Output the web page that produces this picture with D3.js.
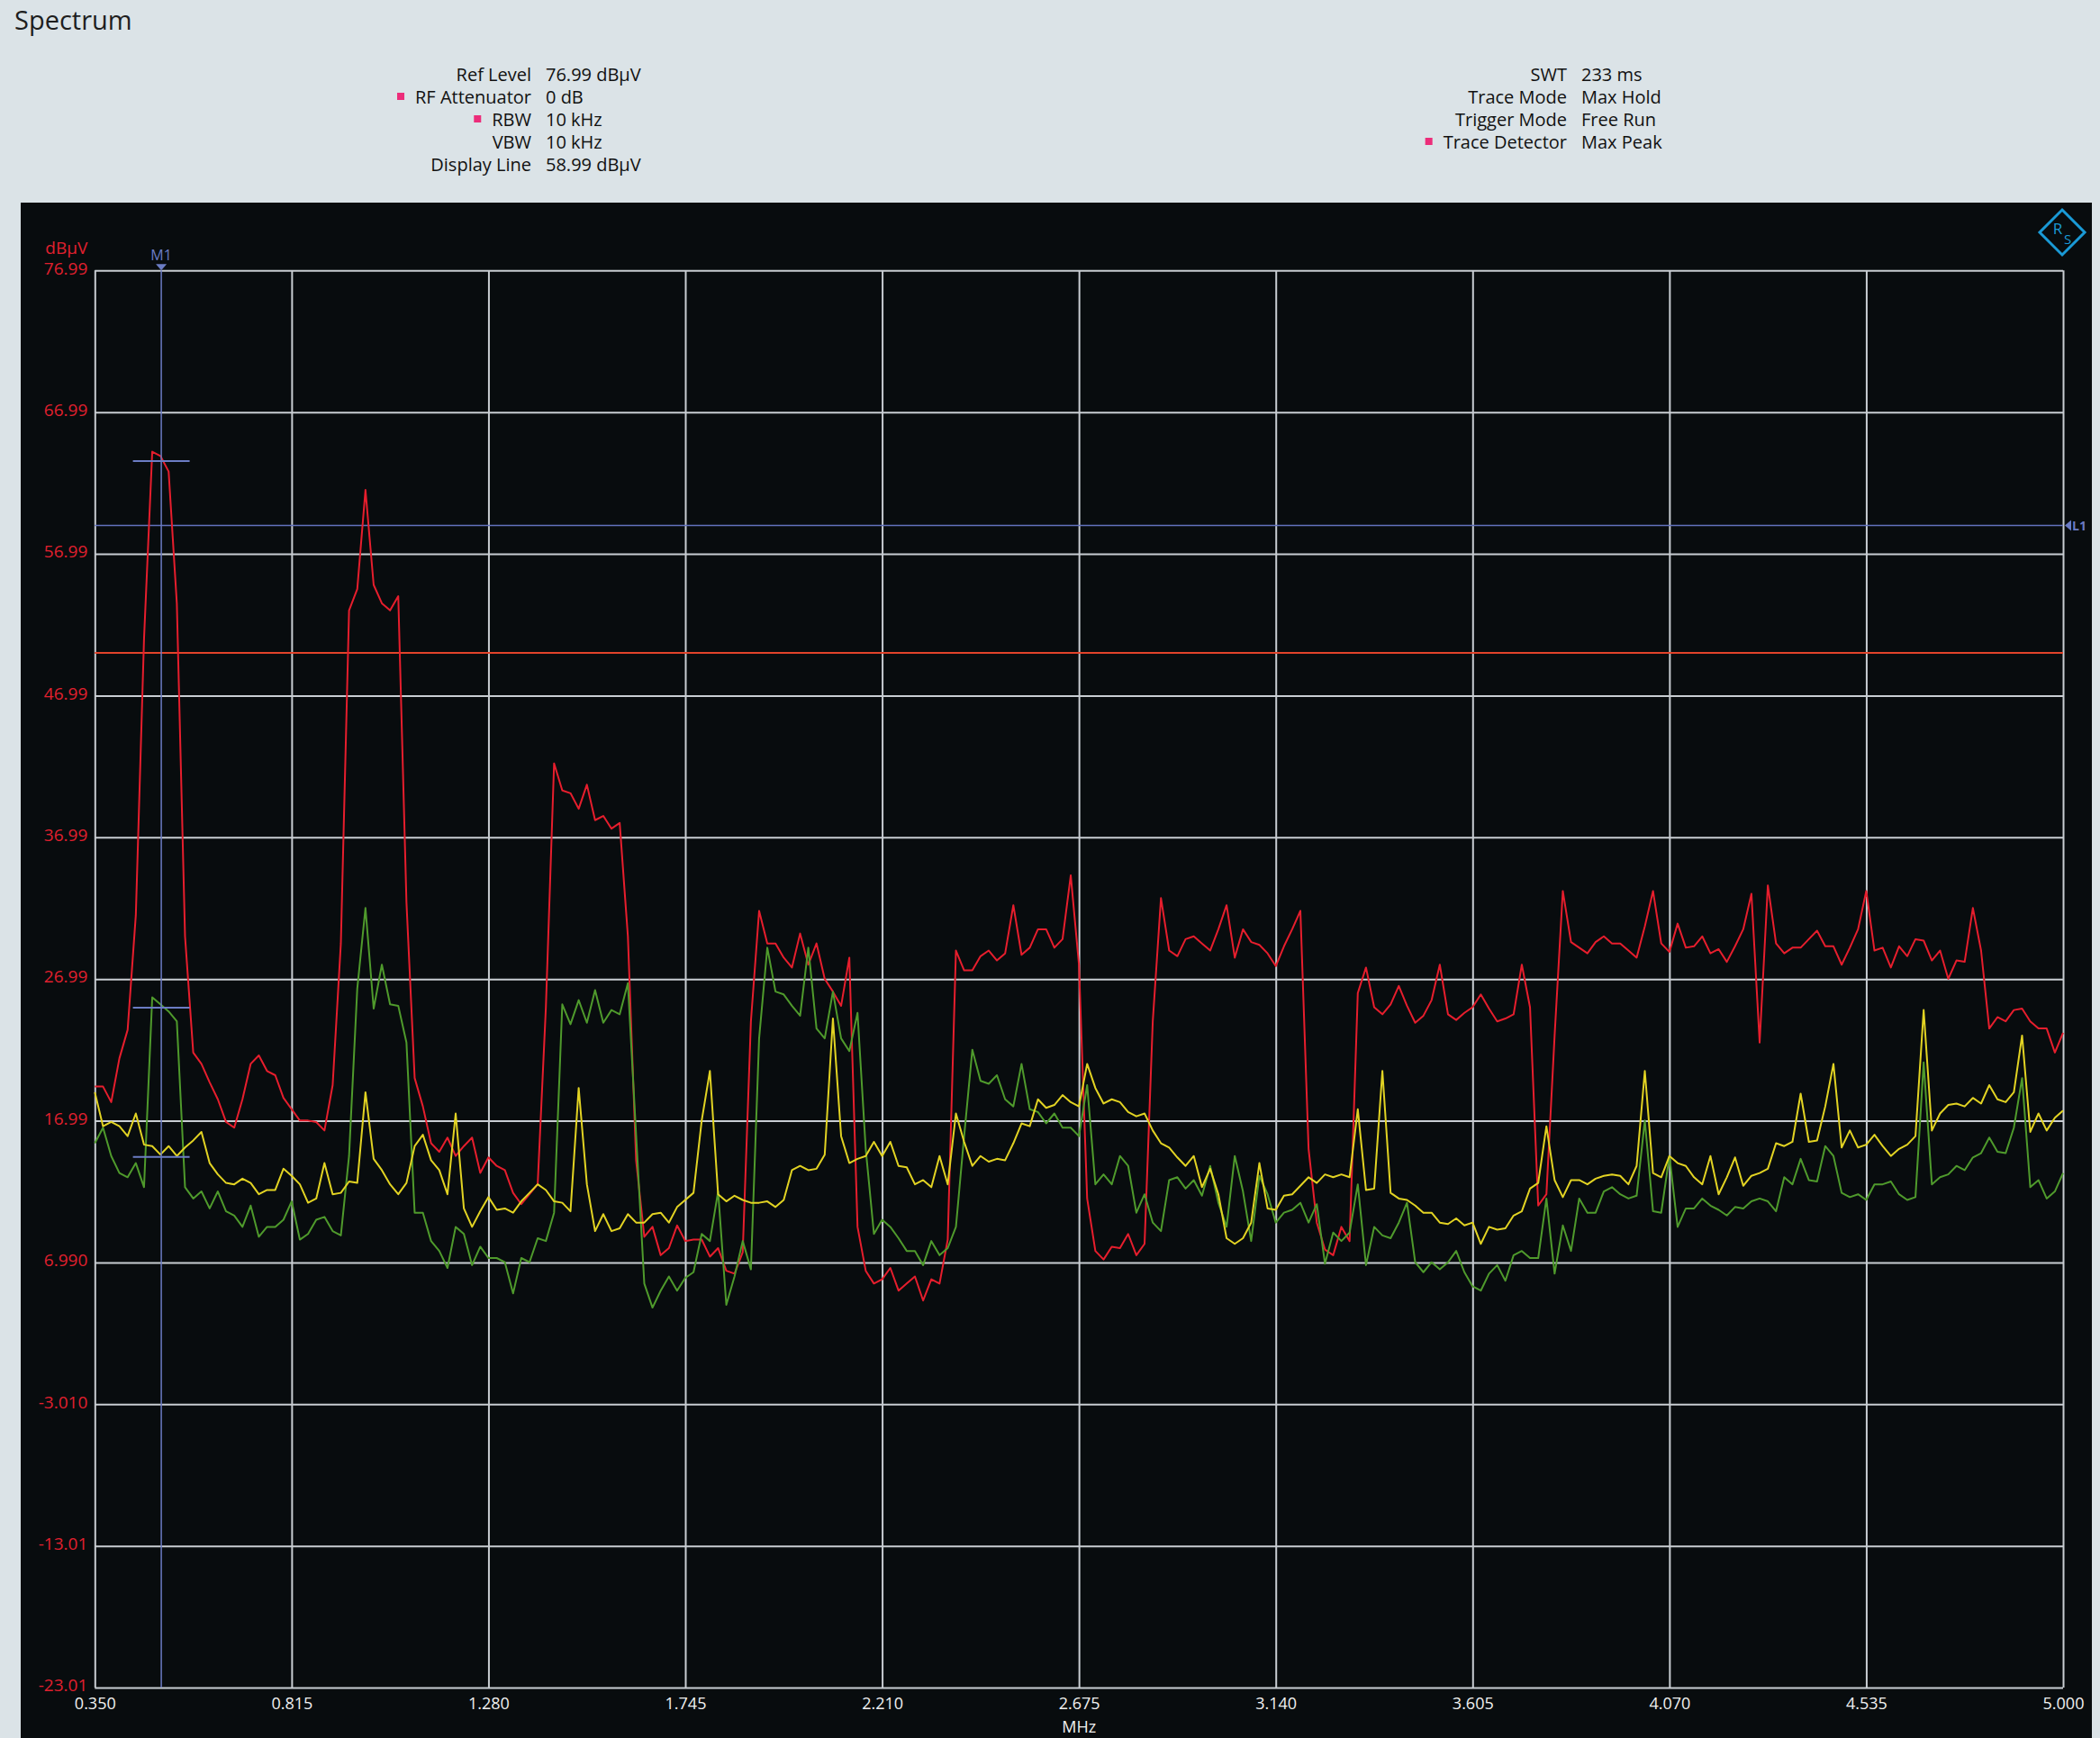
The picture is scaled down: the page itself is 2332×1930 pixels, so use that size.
<!DOCTYPE html>
<html>
<head>
<meta charset="utf-8">
<script src="https://cdn.jsdelivr.net/npm/d3@7"></script>
<style>
  body { margin: 0; background: #dbe3e7; }
  svg { display: block; }
  text { font-family: "Open Sans", "Noto Sans", sans-serif; }
</style>
</head>
<body>
<svg id="chart" width="2332" height="1930"></svg>
<script>
// sweep: 0.35 .. 5.0 MHz, 10 divisions, 24 points per division
const startMHz = 0.35;
const stopMHz = 5.0;
const pointsPerDiv = 24;

const xTickValues = [0.35, 0.815, 1.28, 1.745, 2.21, 2.675, 3.14, 3.605, 4.07, 4.535, 5.0];
const xTickLabels = ["0.350", "0.815", "1.280", "1.745", "2.210", "2.675", "3.140", "3.605", "4.070", "4.535", "5.000"];
const yTickValues = [76.99, 66.99, 56.99, 46.99, 36.99, 26.99, 16.99, 6.99, -3.01, -13.01, -23.01];
const yTickLabels = ["76.99", "66.99", "56.99", "46.99", "36.99", "26.99", "16.99", "6.990", "-3.010", "-13.01", "-23.01"];

// dBµV, one value per sweep point (241)
const redTrace = [
  19.4, 19.4, 18.3, 21.4, 23.4, 31.5, 51, 64.2, 63.9, 62.8, 53.5, 30, 21.8, 21, 19.7, 18.5, 16.9, 16.5, 18.5, 21, 21.6, 20.5, 20.2, 18.6, 17.8,
  17.0, 17.0, 16.9, 16.3, 19.5, 29.5, 53, 54.5, 61.5, 54.8, 53.5, 53, 54, 32.4, 20, 18, 15.4, 14.8, 15.8, 14.5, 15.2, 15.8, 13.3, 14.4,
  13.8, 13.5, 11.9, 11.1, 11.8, 12.5, 25, 42.2, 40.3, 40.1, 39, 40.7, 38.2, 38.5, 37.6, 38, 30, 14.2, 8.8, 9.5, 7.5, 8, 9.6, 8.5,
  8.6, 8.6, 7.4, 8, 6.4, 6.2, 7.7, 24, 31.8, 29.5, 29.5, 28.5, 27.8, 30.2, 28, 29.5, 27.0, 26.1, 25.1, 28.5, 9.5, 6.4, 5.5, 5.8,
  6.6, 5, 5.5, 6, 4.3, 5.8, 5.5, 8.6, 29, 27.6, 27.6, 28.6, 29, 28.3, 28.8, 32.2, 28.7, 29.2, 30.5, 30.5, 29.2, 29.8, 34.3, 28,
  11.5, 7.8, 7.2, 8.1, 8, 9, 7.5, 8.3, 24, 32.7, 29, 28.6, 29.8, 30, 29.5, 29.0, 30.5, 32.2, 28.5, 30.5, 29.6, 29.4, 28.8, 27.9,
  29.3, 30.5, 31.8, 15, 9.8, 7.9, 7.5, 9.5, 8.5, 26, 27.8, 25, 24.5, 25.2, 26.5, 25.1, 23.9, 24.4, 25.5, 28, 24.5, 24.1, 24.6, 25,
  25.9, 24.9, 24, 24.2, 24.5, 28, 25, 11, 11.8, 23, 33.2, 29.6, 29.2, 28.8, 29.6, 30, 29.5, 29.5, 29, 28.5, 30.7, 33.2, 29.5, 28.9,
  30.9, 29.2, 29.3, 30, 28.8, 29.1, 28.2, 29.3, 30.5, 33, 22.5, 33.6, 29.5, 28.8, 29.2, 29.2, 29.8, 30.4, 29.3, 29.3, 28, 29.2, 30.5, 33.2,
  29, 29.2, 27.8, 29.3, 28.6, 29.8, 29.7, 28.3, 29, 27.0, 28.3, 28.2, 32, 29, 23.5, 24.3, 24, 24.8, 24.9, 24, 23.5, 23.5, 21.8, 23.2
];

const greenTrace = [
  15.4, 16.5, 14.5, 13.3, 13.0, 14.0, 12.3, 25.7, 25.2, 24.7, 24.0, 12.3, 11.5, 12, 10.8, 12, 10.6, 10.3, 9.5, 11, 8.8, 9.5, 9.5, 10, 11.3,
  8.6, 9, 10, 10.2, 9.2, 8.9, 14.5, 26.3, 32, 24.9, 28, 25.2, 25.1, 22.5, 10.5, 10.5, 8.5, 7.8, 6.6, 9.5, 9, 6.8, 8.1, 7.3,
  7.3, 7, 4.8, 7.3, 7, 8.7, 8.5, 10.5, 25.2, 23.8, 25.5, 23.9, 26.2, 23.9, 24.8, 24.5, 26.7, 16, 5.5, 3.8, 5, 6, 5, 5.9,
  6.3, 9, 8.5, 12, 4, 6, 8.5, 6.5, 22.8, 29.2, 26.1, 25.9, 25.1, 24.4, 29.2, 23.5, 22.8, 26.1, 22.8, 21.9, 24.6, 15, 9, 10,
  9.5, 8.7, 7.8, 7.8, 6.8, 8.5, 7.5, 8, 9.5, 15.9, 22, 19.8, 19.6, 20.2, 18.5, 18, 21, 17.8, 17.6, 16.8, 17.5, 16.5, 16.5, 15.9,
  19.5, 12.5, 13.2, 12.5, 14.5, 13.8, 10.5, 11.8, 9.8, 9.2, 12.8, 13.0, 12.2, 12.8, 11.7, 13.8, 11.2, 9.5, 14.5, 12, 8.5, 13.1, 11.8, 9.8,
  10.5, 10.7, 11.2, 9.8, 11.1, 6.9, 9.1, 8.5, 9.1, 12.5, 6.8, 9.5, 8.9, 8.7, 9.8, 11.2, 7, 6.3, 7, 6.5, 7, 7.8, 6.3, 5.3,
  5, 6.2, 6.8, 5.7, 7.5, 7.8, 7.3, 7.3, 11.5, 6.2, 9.6, 7.8, 11.5, 10.5, 10.5, 12, 12.3, 11.8, 11.5, 11.7, 17, 10.6, 10.5, 14.5,
  9.5, 10.8, 10.8, 11.5, 11, 10.7, 10.3, 10.9, 10.8, 11.3, 11.5, 11.3, 10.6, 13, 12.5, 14.3, 12.8, 12.7, 15.2, 14.5, 11.9, 11.6, 11.8, 11.4,
  12.5, 12.5, 12.7, 11.8, 11.4, 11.6, 21.1, 12.5, 13, 13.2, 13.8, 13.5, 14.4, 14.7, 15.8, 14.8, 14.7, 16.5, 20, 12.3, 12.8, 11.5, 12, 13.3
];

const yellowTrace = [
  19, 16.6, 16.9, 16.6, 15.9, 17.5, 15.3, 15.2, 14.6, 15.2, 14.5, 15.1, 15.6, 16.2, 14, 13.2, 12.6, 12.5, 12.9, 12.6, 11.8, 12.1, 12.1, 13.6, 13.1,
  12.5, 11.2, 11.5, 14, 11.8, 11.9, 12.7, 12.6, 19, 14.3, 13.5, 12.5, 11.8, 12.6, 15.2, 16, 14.2, 13.5, 11.8, 17.5, 10.8, 9.5, 10.6, 11.6,
  10.7, 10.8, 10.5, 11.3, 11.9, 12.5, 12.1, 11.3, 11.2, 10.6, 19.3, 12.5, 9.2, 10.4, 9.2, 9.4, 10.4, 9.8, 9.8, 10.4, 10.5, 9.8, 10.9, 11.4,
  11.9, 17, 20.5, 11.8, 11.3, 11.7, 11.4, 11.2, 11.2, 11.3, 10.9, 11.4, 13.5, 13.8, 13.5, 13.6, 14.6, 24.2, 15.9, 14, 14.3, 14.5, 15.5, 14.5,
  15.5, 13.8, 13.7, 12.5, 12.8, 12.3, 14.5, 12.5, 17.5, 15.5, 13.8, 14.5, 14.1, 14.3, 14.2, 15.4, 16.8, 16.6, 18.5, 17.9, 18.1, 18.8, 18.3, 18,
  21, 19.3, 18.2, 18.5, 18.3, 17.6, 17.3, 17.5, 16.3, 15.4, 15.1, 14.4, 13.8, 14.5, 12.3, 13.6, 11.8, 8.7, 8.3, 8.7, 9.8, 14, 10.8, 10.7,
  11.7, 11.8, 12.4, 13, 12.6, 13.2, 13, 13.2, 13, 17.8, 12.1, 12.2, 20.5, 11.9, 11.5, 11.4, 11, 10.5, 10.5, 9.8, 9.7, 10.1, 9.6, 9.8,
  8.3, 9.5, 9.3, 9.4, 10.3, 10.6, 12.2, 12.6, 16.6, 12.8, 11.6, 12.8, 12.8, 12.5, 12.9, 13.1, 13.2, 13.1, 12.5, 13.8, 20.5, 13.3, 13, 14.5,
  14.0, 13.8, 13.0, 12.5, 14.5, 11.8, 13, 14.4, 12.4, 13.1, 13.3, 13.6, 15.4, 15.2, 15.5, 18.9, 15.5, 15.6, 18, 21, 15.1, 16.3, 15.1, 15.3,
  16, 15.2, 14.5, 15, 15.3, 15.9, 24.8, 16.3, 17.5, 18.1, 18.2, 18.0, 18.6, 18.2, 19.5, 18.5, 18.3, 19, 23, 16.2, 17.5, 16.3, 17.2, 17.7
];

// marker M1 and lines
const markerMHz = 0.507;
const markerLevels = [63.54, 24.97, 14.44];
const displayLine = 58.99;
const limitLine = 50.0;

// setup info rows: [label, value, flagged]
const setupLeft = [
  ["Ref Level", "76.99 dBµV", false],
  ["RF Attenuator", "0 dB", true],
  ["RBW", "10 kHz", true],
  ["VBW", "10 kHz", false],
  ["Display Line", "58.99 dBµV", false]
];
const setupRight = [
  ["SWT", "233 ms", false],
  ["Trace Mode", "Max Hold", false],
  ["Trigger Mode", "Free Run", false],
  ["Trace Detector", "Max Peak", true]
];

const svg = d3.select("#chart");
const grid = { left: 105.3, right: 2291, top: 300.3, bottom: 1874 };

const x = d3.scaleLinear().domain([startMHz, stopMHz]).range([grid.left, grid.right]);
const y = d3.scaleLinear().domain([-23.01, 76.99]).range([grid.bottom, grid.top]);

const stepMHz = (xTickValues[1] - xTickValues[0]) / pointsPerDiv;

function drawHeader() {
  svg.append("text")
    .text("Spectrum")
    .attr("x", 16)
    .attr("y", 33)
    .attr("font-size", 29)
    .attr("fill", "#1e1e1e");

  drawInfoBlock(setupLeft, 590, 606);
  drawInfoBlock(setupRight, 1740, 1756);
}

function drawInfoBlock(rows, labelX, valueX) {
  rows.forEach((row, i) => {
    let baseline = 90 + i * 25;
    let label = svg.append("text")
      .text(row[0])
      .attr("x", labelX)
      .attr("y", baseline)
      .attr("font-size", 20)
      .attr("text-anchor", "end")
      .attr("fill", "#111");
    svg.append("text")
      .text(row[1])
      .attr("x", valueX)
      .attr("y", baseline)
      .attr("font-size", 20)
      .attr("fill", "#111");
    if (row[2]) {
      let w = label.node().getComputedTextLength();
      svg.append("rect")
        .attr("x", labelX - w - 20)
        .attr("y", baseline - 12)
        .attr("width", 8)
        .attr("height", 8)
        .attr("fill", "#ec2d7a");
    }
  });
}

function drawPanel() {
  svg.append("rect")
    .attr("x", 23)
    .attr("y", 225)
    .attr("width", 2300)
    .attr("height", 1705)
    .attr("fill", "#080c0e");

  // R&S logo
  let logo = svg.append("g").attr("transform", "translate(2290,258)");
  logo.append("path")
    .attr("d", "M0,-25 L25,0 L0,25 L-25,0 Z")
    .attr("fill", "none")
    .attr("stroke", "#1a9ad6")
    .attr("stroke-width", 3);
  logo.append("text").text("R")
    .attr("x", -5).attr("y", 2)
    .attr("font-size", 17).attr("text-anchor", "middle")
    .attr("fill", "#1a9ad6");
  logo.append("text").text("S")
    .attr("x", 6).attr("y", 13)
    .attr("font-size", 15).attr("text-anchor", "middle")
    .attr("fill", "#1a9ad6");
}

function drawAxes() {
  let xAxis = d3.axisBottom(x)
    .tickValues(xTickValues)
    .tickFormat((d, i) => xTickLabels[i])
    .tickSize(-(grid.bottom - grid.top))
    .tickPadding(11);

  let xg = svg.append("g")
    .attr("transform", `translate(0,${grid.bottom})`)
    .call(xAxis);
  xg.select(".domain").remove();
  xg.selectAll("line").attr("stroke", "#c8cdd2").attr("stroke-width", 2);
  xg.selectAll("text")
    .attr("fill", "#f0f0f0")
    .attr("font-size", 18)
    .attr("font-family", "\"Open Sans\", sans-serif");

  let yAxis = d3.axisLeft(y)
    .tickValues(yTickValues)
    .tickFormat((d, i) => yTickLabels[i])
    .tickSize(-(grid.right - grid.left))
    .tickPadding(8);

  let yg = svg.append("g")
    .attr("transform", `translate(${grid.left},0)`)
    .call(yAxis);
  yg.select(".domain").remove();
  yg.selectAll("line").attr("stroke", "#c8cdd2").attr("stroke-width", 2);
  yg.selectAll("text")
    .attr("fill", "#e0202e")
    .attr("font-size", 19)
    .attr("dy", "0.2em")
    .attr("font-family", "\"Open Sans\", sans-serif");

  svg.append("text")
    .text("dBµV")
    .attr("x", grid.left - 8)
    .attr("y", 282)
    .attr("font-size", 19)
    .attr("text-anchor", "end")
    .attr("fill", "#e0202e");

  svg.append("text")
    .text("MHz")
    .attr("x", (grid.left + grid.right) / 2)
    .attr("y", 1924)
    .attr("font-size", 18)
    .attr("text-anchor", "middle")
    .attr("fill", "#f0f0f0");
}

function drawLines() {
  // limit line
  svg.append("line")
    .attr("x1", grid.left).attr("x2", grid.right)
    .attr("y1", y(limitLine)).attr("y2", y(limitLine))
    .attr("stroke", "#e2432a")
    .attr("stroke-width", 2);

  // display line L1
  svg.append("line")
    .attr("x1", grid.left).attr("x2", grid.right)
    .attr("y1", y(displayLine)).attr("y2", y(displayLine))
    .attr("stroke", "#6272bd")
    .attr("stroke-width", 1.5);
  let ly = y(displayLine);
  svg.append("path")
    .attr("d", `M${grid.right + 2},${ly} L${grid.right + 9},${ly - 6} L${grid.right + 9},${ly + 6} Z`)
    .attr("fill", "#6a7bc4");
  svg.append("text")
    .text("L1")
    .attr("x", grid.right + 10)
    .attr("y", ly + 5)
    .attr("font-size", 14)
    .attr("font-weight", "bold")
    .attr("fill", "#6a7bc4");
}

function drawTraces() {
  let line = d3.line()
    .x((d, i) => x(startMHz + i * stepMHz))
    .y(d => y(d));

  let traces = [
    { values: redTrace, color: "#e61e2d" },
    { values: greenTrace, color: "#4f9a2c" },
    { values: yellowTrace, color: "#e2d323" }
  ];

  svg.append("g")
    .selectAll("path")
    .data(traces)
    .join("path")
    .attr("d", d => line(d.values))
    .attr("fill", "none")
    .attr("stroke", d => d.color)
    .attr("stroke-width", 2)
    .attr("stroke-linejoin", "round");
}

function drawMarker() {
  let mx = x(markerMHz);
  let color = "#6b7cc4";

  svg.append("line")
    .attr("x1", mx).attr("x2", mx)
    .attr("y1", grid.top).attr("y2", grid.bottom)
    .attr("stroke", color)
    .attr("stroke-width", 1.5);

  svg.append("path")
    .attr("d", `M${mx - 6},${grid.top - 7} L${mx + 6},${grid.top - 7} L${mx},${grid.top} Z`)
    .attr("fill", color);

  svg.append("text")
    .text("M1")
    .attr("x", mx)
    .attr("y", 289)
    .attr("font-size", 16)
    .attr("text-anchor", "middle")
    .attr("fill", color);

  svg.append("g")
    .selectAll("line")
    .data(markerLevels)
    .join("line")
    .attr("x1", x(markerMHz - 0.067))
    .attr("x2", x(markerMHz + 0.067))
    .attr("y1", d => y(d))
    .attr("y2", d => y(d))
    .attr("stroke", color)
    .attr("stroke-width", 2);
}

drawHeader();
drawPanel();
drawAxes();
drawLines();
drawTraces();
drawMarker();
</script>
</body>
</html>
